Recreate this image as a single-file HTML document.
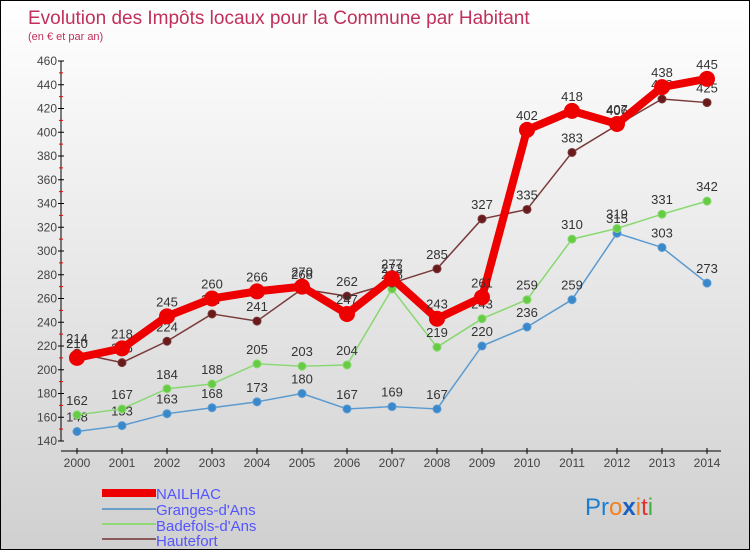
<!DOCTYPE html>
<html><head><meta charset="utf-8"><style>
body{margin:0}
#c{width:750px;height:550px;position:relative;box-sizing:border-box;border:1px solid #000;background:linear-gradient(#fff,#d0d0d0);font-family:"Liberation Sans",sans-serif;overflow:hidden}
</style></head><body>
<div id="c">
<svg id="s" width="750" height="550">
<text x="27" y="23" font-size="19" fill="#c0305a">Evolution des Impôts locaux pour la Commune par Habitant</text>
<text x="27" y="39" font-size="11" fill="#c0305a">(en € et par an)</text>
<g id="axes"></g><g id="series"></g>
<g font-size="15" fill="#5555ff">
<rect x="101" y="488" width="54" height="8" fill="#e00"/>
<text x="155" y="498">NAILHAC</text>
<rect x="101" y="507" width="54" height="2" fill="#6aa0c8"/>
<text x="155" y="514">Granges-d'Ans</text>
<rect x="101" y="522" width="54" height="2" fill="#90d878"/>
<text x="155" y="530">Badefols-d'Ans</text>
<rect x="101" y="537" width="54" height="2" fill="#8a5a5a"/>
<text x="155" y="545">Hautefort</text>
</g>
<text x="584" y="514" font-size="24"><tspan fill="#1a7fd0">Pr</tspan><tspan fill="#f08020">o</tspan><tspan fill="#1a60c0" font-weight="bold">x</tspan><tspan fill="#f08020">i</tspan><tspan fill="#e03030">t</tspan><tspan fill="#40b040">i</tspan></text>
</svg></div>
<script>
const years=[2000,2001,2002,2003,2004,2005,2006,2007,2008,2009,2010,2011,2012,2013,2014];
const yTicks=[140,160,180,200,220,240,260,280,300,320,340,360,380,400,420,440,460];
const nailhac=[210,218,245,260,266,270,247,277,243,261,402,418,407,438,445];
const granges=[148,153,163,168,173,180,167,169,167,220,236,259,315,303,273];
const badefols=[162,167,184,188,205,203,204,268,219,243,259,310,319,331,342];
const hautefort=[214,206,224,247,241,268,262,273,285,327,335,383,406,428,425];
const NS="http://www.w3.org/2000/svg";
const X=i=>76+i*45, Y=v=>440-(v-140)*380/320;
function el(t,a,p){const e=document.createElementNS(NS,t);for(const k in a)e.setAttribute(k,a[k]);p.appendChild(e);return e;}
const ax=document.getElementById('axes'),sr=document.getElementById('series');
let yl=el('line',{x1:60,y1:60,x2:60,y2:440,stroke:'#000'},ax);


yTicks.forEach((t,i)=>{
 el('line',{x1:57,x2:63,y1:Y(t),y2:Y(t),stroke:'#000'},ax);
 if(i<yTicks.length-1) el('line',{x1:58,x2:62,y1:Y(t+10),y2:Y(t+10),stroke:'#e00'},ax);
 const tx=el('text',{x:56,y:Y(t)+4,'font-size':12,fill:'#444','text-anchor':'end'},ax);tx.textContent=t;
 
 
});
let xl=el('line',{x1:60,y1:450,x2:720,y2:450,stroke:'#000'},ax);


years.forEach((y,i)=>{
 el('line',{x1:X(i),x2:X(i),y1:447,y2:453,stroke:'#000'},ax);
 const tx=el('text',{x:X(i),y:466,'font-size':12,fill:'#444','text-anchor':'middle'},ax);tx.textContent=y;
 
 
});
function series(d,name,col,fill,w,r){
 const g=el('g',{},sr);
 
 
 el('polyline',{points:d.map((v,i)=>X(i)+','+Y(v)).join(' '),fill:'none',stroke:col,'stroke-width':w,'stroke-linejoin':'round'},g);
 d.forEach((v,i)=>{
  const c=el('circle',{cx:X(i),cy:Y(v),r:r,fill:fill,stroke:col,'stroke-width':1},g);
  
  
  const t=el('text',{x:X(i),y:Y(v)-10,'font-size':13,fill:'#333','text-anchor':'middle'},g);t.textContent=v;
  
  
 });
}
series(granges,'granges','#5a9ad0','#3a88cc',1.5,4);
series(badefols,'badefols','#88d870','#66cc44',1.5,4);
series(hautefort,'hautefort','#7a3a3a','#6a1a1a',1.5,4);
series(nailhac,'nailhac','#ee0000','#ee0000',8,7.5);
</script>
</body></html>
